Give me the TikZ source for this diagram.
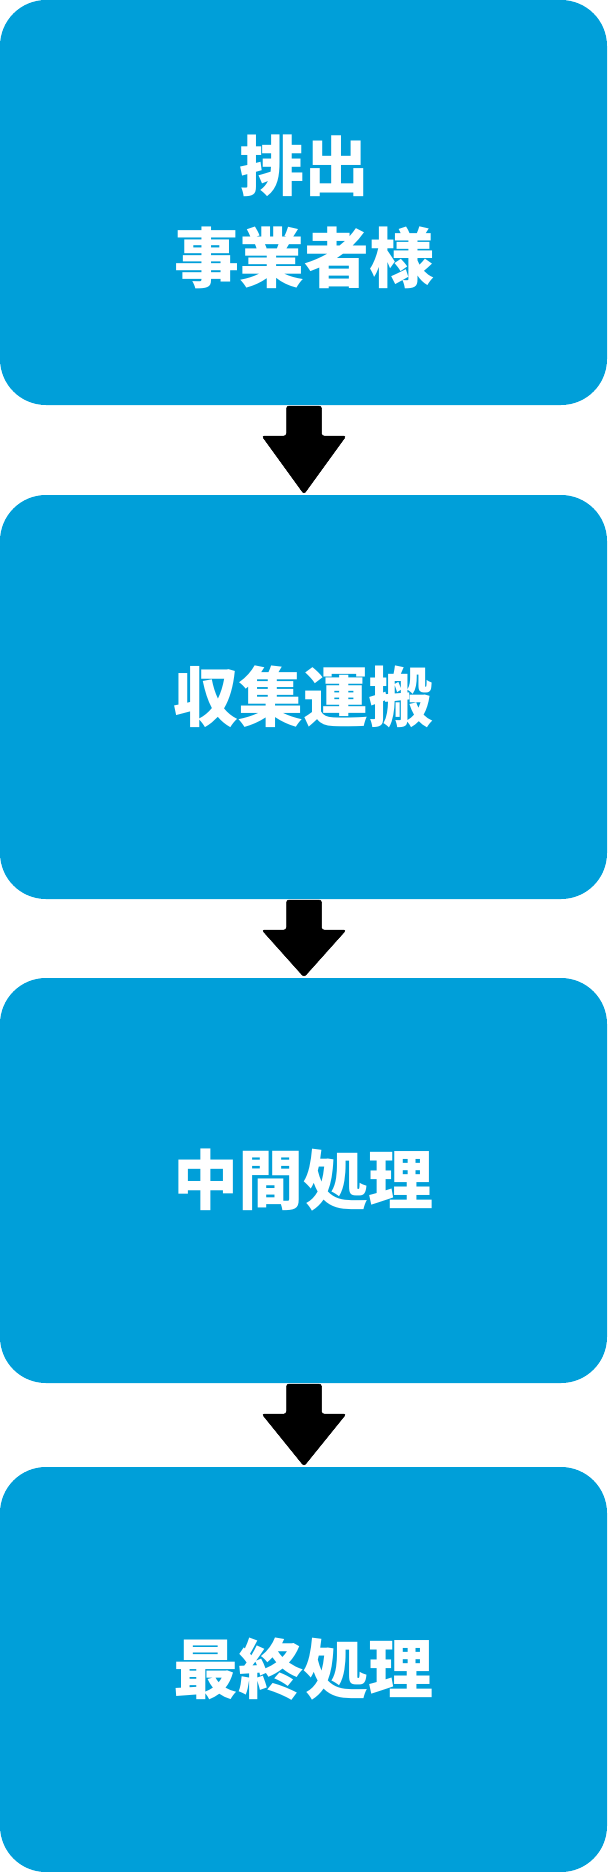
\documentclass[tikz,border=0pt]{standalone}
\usepackage{fontspec}
\newfontfamily\cjk{Noto Sans CJK JP}
\usetikzlibrary{calc}
\definecolor{boxblue}{RGB}{0,159,217}
\tikzset{
  flowbox/.style={fill=boxblue, draw=none, rounded corners=46pt, minimum width=607pt, minimum height=405pt, inner sep=0pt, outer sep=0pt},
  flowtext/.style={text=white, font=\cjk\bfseries\fontsize{65}{92}\selectfont, align=center, inner sep=0pt},
  fatarrow/.style={fill=black, draw=black, line width=0.5pt, rounded corners=2.5pt}
}
\begin{document}
\begin{tikzpicture}[x=1pt,y=-1pt]
\useasboundingbox (0,0) rectangle (608,1872);
\node[flowbox] (b1) at (303.5,202.5) {};
\node[flowbox, minimum height=404pt] (b2) at (303.5,697) {};
\node[flowbox] (b3) at (303.5,1180.5) {};
\node[flowbox] (b4) at (303.5,1669.5) {};
\node[flowtext] (t1) at (304,212) {排出\\事業者様};
\node[flowtext] (t2) at (b2.center) {収集運搬};
\node[flowtext] (t3) at (b3.center) {中間処理};
\node[flowtext] (t4) at (b4.center) {最終処理};
\foreach \a/\b in {b1/b2, b2/b3, b3/b4}{
  \coordinate (top) at ($(\a.south)+(0.5,1)$);
  \coordinate (tip) at ($(\b.north)+(0.5,-1)$);
  \fill[fatarrow] ($(top)+(-17.5,0)$) -- ($(top)+(17.5,0)$) -- ($(top)+(17.5,30)$) -- ($(top)+(42,30)$) -- (tip) -- ($(top)+(-42,30)$) -- ($(top)+(-17.5,30)$) -- cycle;
}
\end{tikzpicture}
\end{document}
